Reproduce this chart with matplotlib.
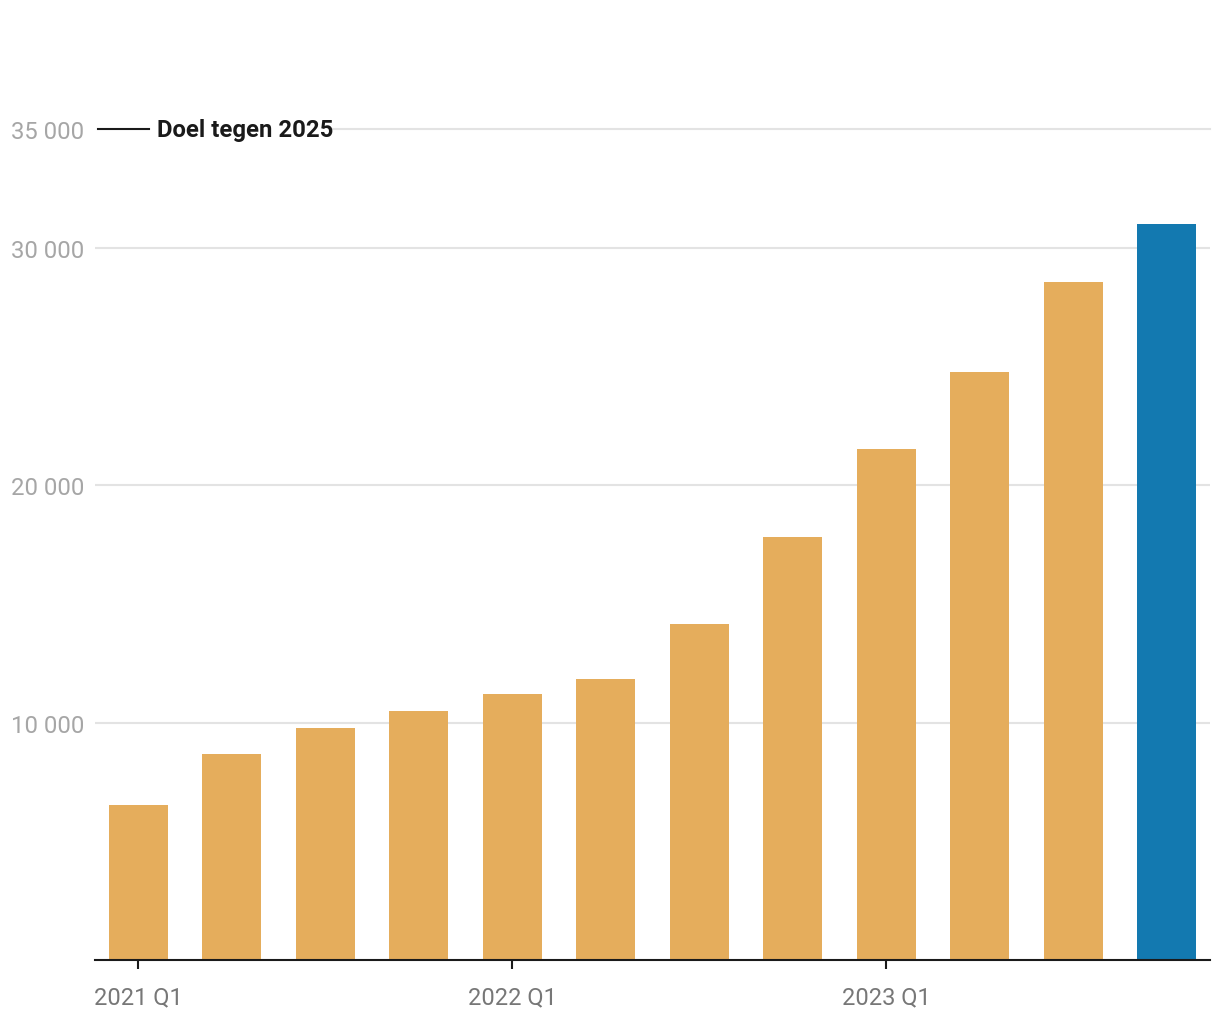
import matplotlib.pyplot as plt
import matplotlib.transforms as mtransforms

plt.rcParams['font.family'] = ['Roboto', 'DejaVu Sans']

# quarters 2021 Q1 .. 2023 Q4
quarters = ['2021 Q1', '2021 Q2', '2021 Q3', '2021 Q4',
            '2022 Q1', '2022 Q2', '2022 Q3', '2022 Q4',
            '2023 Q1', '2023 Q2', '2023 Q3', '2023 Q4']
values = [6530, 8670, 9770, 10480, 11200, 11830,
          14150, 17810, 21520, 24760, 28550, 30990]
highlight = [False] * 11 + [True]
target = 35000
target_label = 'Doel tegen 2025'
yticks = [10000, 20000, 30000, 35000]
xtick_idx = [0, 4, 8]

orange = '#E5AD5C'
blue = '#1379B0'

fig = plt.figure(figsize=(12.2, 10.2), dpi=100)
ax = fig.add_axes([95 / 1220, 59 / 1020, 1115 / 1220, (960 - 129) / 1020])

x = list(range(len(values)))
colors = [blue if h else orange for h in highlight]
ax.bar(x, values, width=0.63, color=colors, zorder=3)

ax.set_xlim(-0.465, len(values) - 1 + 0.465)
ax.set_ylim(0, target)

# gridlines (the target line gets its own treatment)
for yv in yticks:
    if yv == target:
        continue
    ax.axhline(yv, color='#e3e3e3', linewidth=1.5, zorder=1)

trans = mtransforms.blended_transform_factory(ax.transAxes, ax.transData)
ax.plot([0.003, 0.048], [target, target], color='#1a1a1a', linewidth=1.5,
        transform=trans, clip_on=False, zorder=4)
ax.plot([0.2135, 1.0], [target, target], color='#e3e3e3', linewidth=1.5,
        transform=trans, clip_on=False, zorder=1)
ax.text(0.0556, target, target_label, transform=trans, fontsize=17.2,
        fontweight='bold', color='#1a1a1a', va='center', ha='left')

ax.set_yticks(yticks)
ax.set_yticklabels([f'{v:,}'.replace(',', ' ') for v in yticks])
ax.tick_params(axis='y', length=0, pad=8, labelsize=17.2, labelcolor='#a6a6a6')

ax.set_xticks(xtick_idx)
ax.set_xticklabels([quarters[i] for i in xtick_idx])
ax.tick_params(axis='x', length=6.5, width=1.5, color='#1a1a1a', pad=12,
               labelsize=17, labelcolor='#777777')

for s in ['top', 'right', 'left']:
    ax.spines[s].set_visible(False)
ax.spines['bottom'].set_color('#1a1a1a')
ax.spines['bottom'].set_linewidth(1.5)
ax.spines['bottom'].set_zorder(5)

fig.savefig('out.png', dpi=100)
